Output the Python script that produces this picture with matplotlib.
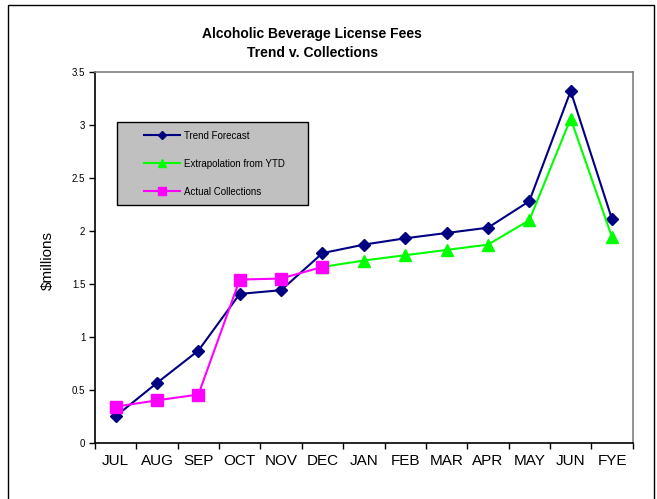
import numpy as np
import matplotlib
matplotlib.use('Agg')
import matplotlib.pyplot as plt
from matplotlib.patches import Rectangle

plt.rcParams['font.family'] = ['Liberation Sans', 'DejaVu Sans']

# chart data
months = ['JUL', 'AUG', 'SEP', 'OCT', 'NOV', 'DEC', 'JAN',
          'FEB', 'MAR', 'APR', 'MAY', 'JUN', 'FYE']
trend = [0.25, 0.565, 0.87, 1.405, 1.44, 1.79, 1.87, 1.93, 1.98, 2.03, 2.28, 3.32, 2.11]
extrap = [np.nan, np.nan, np.nan, np.nan, np.nan, 1.66, 1.72, 1.77, 1.82, 1.87, 2.10, 3.06, 1.94]
actual = [0.34, 0.40, 0.455, 1.54, 1.55, 1.66]
y_ticks = [0, 0.5, 1, 1.5, 2, 2.5, 3, 3.5]

W, H = 657, 499
fig = plt.figure(figsize=(W / 100, H / 100), dpi=100)
ax = fig.add_axes([95 / W, 1 - 442.7 / H, (632.7 - 95) / W, (442.7 - 72) / H])

x = np.arange(len(months))
ax.plot(x, trend, color='#000080', lw=1.5, marker='D', ms=6,
        label='Trend Forecast', zorder=3)
ax.plot(x, extrap, color='#00ff00', lw=1.5, marker='^', ms=8,
        label='Extrapolation from YTD', zorder=3)
ax.plot(x[:len(actual)], actual, color='#ff00ff', lw=1.5, marker='s', ms=8.5,
        label='Actual Collections', zorder=4)

ax.set_xlim(-0.5, len(months) - 0.5)
ax.set_ylim(0, 3.5)

# category labels in the middle, tick marks on the boundaries
ax.set_xticks(x)
ax.set_xticklabels(months, fontsize=11)
ax.tick_params(axis='x', which='major', length=0, pad=8)
ax.set_xticks(np.arange(-0.5, len(months), 1.0), minor=True)
ax.tick_params(axis='x', which='minor', length=4, width=1, direction='out')

ax.set_yticks(y_ticks)
ax.set_yticklabels(['%g' % v for v in y_ticks], fontsize=7)
ax.tick_params(axis='y', length=4, width=1, direction='out', pad=3)

for s in ['left', 'bottom']:
    ax.spines[s].set_color('black')
    ax.spines[s].set_linewidth(1.2)
for s in ['top', 'right']:
    ax.spines[s].set_color('#808080')
    ax.spines[s].set_linewidth(1.2)

# gray legend panel
box = Rectangle((0.041, 0.641), 0.355, 0.224, transform=ax.transAxes,
                facecolor='#c0c0c0', edgecolor='black', lw=1, zorder=5)
ax.add_patch(box)
leg = ax.legend(loc='upper left', bbox_to_anchor=(0.083, 0.852), frameon=False,
                fontsize=7, labelspacing=1.85, handlelength=3.8, handletextpad=0.4,
                borderaxespad=0, markerscale=0.75)
leg.set_zorder(6)

fig.text(0.475, 1 - 38 / H, 'Alcoholic Beverage License Fees', ha='center',
         va='baseline', fontsize=10, fontweight='bold')
fig.text(0.475, 1 - 57 / H, 'Trend v. Collections', ha='center',
         va='baseline', fontsize=10, fontweight='bold')
fig.text(48 / W, 1 - 260 / H, r'\$millions', rotation=90, ha='center',
         va='center', fontsize=11)

# outer frame around the chart
fig.patches.append(Rectangle((8 / W, -0.02), (654 - 8) / W, 1 - 5 / H + 0.02,
                             transform=fig.transFigure, fill=False,
                             edgecolor='black', lw=1))

fig.savefig('out.png', dpi=100)
